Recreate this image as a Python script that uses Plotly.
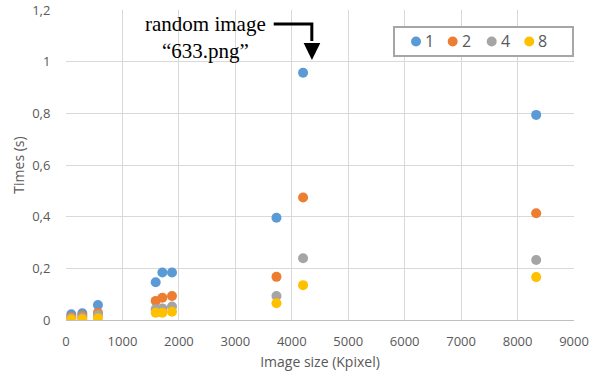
import plotly.graph_objects as go

# Image sizes (Kpixel) for each test image
sizes = [94, 289, 566, 1589, 1707, 1878, 3729, 4200, 8330]

# Execution times (s) per thread count
t1 = [0.022, 0.026, 0.058, 0.146, 0.184, 0.184, 0.396, 0.957, 0.794]
t2 = [0.012, 0.016, 0.028, 0.074, 0.086, 0.093, 0.167, 0.474, 0.413]
t4 = [0.008, 0.010, 0.019, 0.042, 0.045, 0.052, 0.093, 0.239, 0.232]
t8 = [0.002, 0.003, 0.007, 0.028, 0.028, 0.032, 0.065, 0.135, 0.166]

series_names = ["1", "2", "4", "8"]
series_values = [t1, t2, t4, t8]
colors = ["#5B9BD5", "#ED7D31", "#A5A5A5", "#FFC000"]

y_ticks = [0, 0.2, 0.4, 0.6, 0.8, 1.0, 1.2]
y_ticktext = ["0", "0,2", "0,4", "0,6", "0,8", "1", "1,2"]
x_ticks = [0, 1000, 2000, 3000, 4000, 5000, 6000, 7000, 8000, 9000]

fig = go.Figure()
for name, vals, c in zip(series_names, series_values, colors):
    fig.add_trace(go.Scatter(x=sizes, y=vals, mode="markers", name=name,
                             marker=dict(color=c, size=10, line=dict(width=0)),
                             showlegend=False))

font_fam = "Open Sans, Liberation Sans, sans-serif"
grid = "#d9d9d9"

fig.update_layout(
    width=590, height=374,
    margin=dict(l=66, r=16, t=10, b=54, autoexpand=False),
    paper_bgcolor="white", plot_bgcolor="white",
    font=dict(family=font_fam, size=13, color="#595959"),
    showlegend=False,
    xaxis=dict(range=[0, 9000], tickvals=x_ticks, showgrid=True, gridcolor=grid,
               gridwidth=1, zeroline=False, showline=True, linecolor="#bfbfbf",
               linewidth=1, ticks="outside", ticklen=9, tickcolor="rgba(0,0,0,0)",
               automargin=False,
               title=dict(text="Image size (Kpixel)", font=dict(size=14, color="#595959"),
                          standoff=8)),
    yaxis=dict(range=[0, 1.2], tickvals=y_ticks, ticktext=y_ticktext, showgrid=True,
               gridcolor=grid, gridwidth=1, zeroline=False, showline=False,
               ticks="outside", ticklen=12, tickcolor="rgba(0,0,0,0)",
               automargin=False,
               title=dict(text="Times (s)", font=dict(size=14, color="#595959"),
                          standoff=4)),
)

# Custom legend (box, markers, labels) in paper coordinates
leg_x = [0.689, 0.7612, 0.8380, 0.9120]
leg_y = 0.8984
fig.add_shape(type="rect", xref="paper", yref="paper", x0=0.6457, x1=0.998,
              y0=0.8516, y1=0.9452, line=dict(color="#a6a6a6", width=2),
              fillcolor="white", layer="above")
for name, c, lx in zip(series_names, colors, leg_x):
    fig.add_shape(type="circle", xref="paper", yref="paper", xsizemode="pixel",
                  ysizemode="pixel", xanchor=lx, yanchor=leg_y, x0=-5, x1=5, y0=-5, y1=5,
                  fillcolor=c, line=dict(width=0), layer="above")
    fig.add_annotation(x=lx, y=leg_y, xref="paper", yref="paper", text=name,
                       showarrow=False, xanchor="left", yanchor="middle", xshift=7,
                       font=dict(size=16, color="#595959"))

# Annotation text
fig.add_annotation(x=2470, y=1.092, xref="x", yref="y", text="random image<br>“633.png”",
                   showarrow=False, font=dict(family="Liberation Serif, Times New Roman, serif",
                                              size=21, color="black"),
                   align="center", xanchor="center", yanchor="middle")
# Bent arrow
fig.add_shape(type="path", xref="x", yref="y",
              path="M 3680 1.146 L 4355 1.146 L 4355 1.08",
              line=dict(color="black", width=3))
fig.add_shape(type="path", xref="x", yref="y",
              path="M 4210 1.0724 L 4505 1.0724 L 4357 1.0066 Z",
              fillcolor="black", line=dict(color="black", width=0))

fig.write_html("out.html", config={"displayModeBar": False},
               post_script="document.body.style.margin='0';")
